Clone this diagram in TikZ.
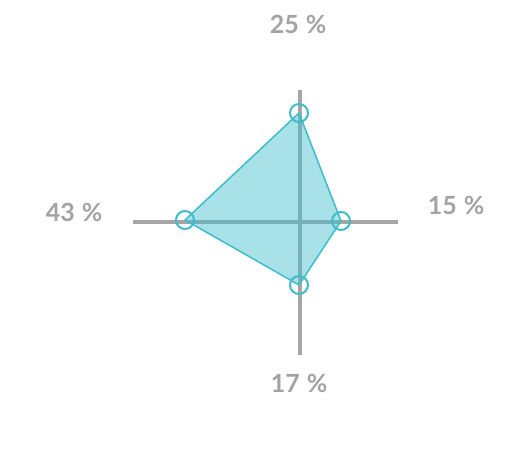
\documentclass[tikz,border=0pt]{standalone}
\usepackage{fontspec}
\setmainfont{Lato}
\definecolor{axisgray}{HTML}{A6A6A6}
\definecolor{teal}{HTML}{3DBCCB}
\definecolor{lbl}{HTML}{A3A3A3}
\begin{document}
\begin{tikzpicture}[x=1pt,y=-1pt,
  axisline/.style={line width=4pt,draw=axisgray},
  vmark/.style={circle,draw=teal,line width=2pt,minimum size=18pt,inner sep=0pt},
  pct/.style={text=lbl,font=\fontsize{25}{30}\selectfont\bfseries}]
\useasboundingbox (0,0) rectangle (512,449);
\coordinate (c) at (300,222);
\coordinate (atop) at (300,90);
\coordinate (abot) at (300,355);
\coordinate (aleft) at (133,222);
\coordinate (aright) at (398,222);
\draw[axisline] (atop) -- (abot);
\draw[axisline] (aleft) -- (aright);
\coordinate (ptop) at (299,113);
\coordinate (pright) at (341,221);
\coordinate (pbot) at (299,285);
\coordinate (pleft) at (185,220);
\fill[teal,fill opacity=0.45] (ptop) -- (pright) -- (pbot) -- (pleft) -- cycle;
\draw[teal,line width=1.5pt,line join=round] (ptop) -- (pright) -- (pbot) -- (pleft) -- cycle;
\node[vmark] (mtop) at (ptop) {};
\node[vmark] (mright) at (pright) {};
\node[vmark] (mbot) at (pbot) {};
\node[vmark] (mleft) at (pleft) {};
\node[pct] (ltop) at (298,24) {25\hspace{7pt}\%};
\node[pct] (lright) at (456,205) {15\hspace{7pt}\%};
\node[pct] (lleft) at (74,212) {43\hspace{7pt}\%};
\node[pct] (lbot) at (299,383) {17\hspace{7pt}\%};
\end{tikzpicture}
\end{document}
